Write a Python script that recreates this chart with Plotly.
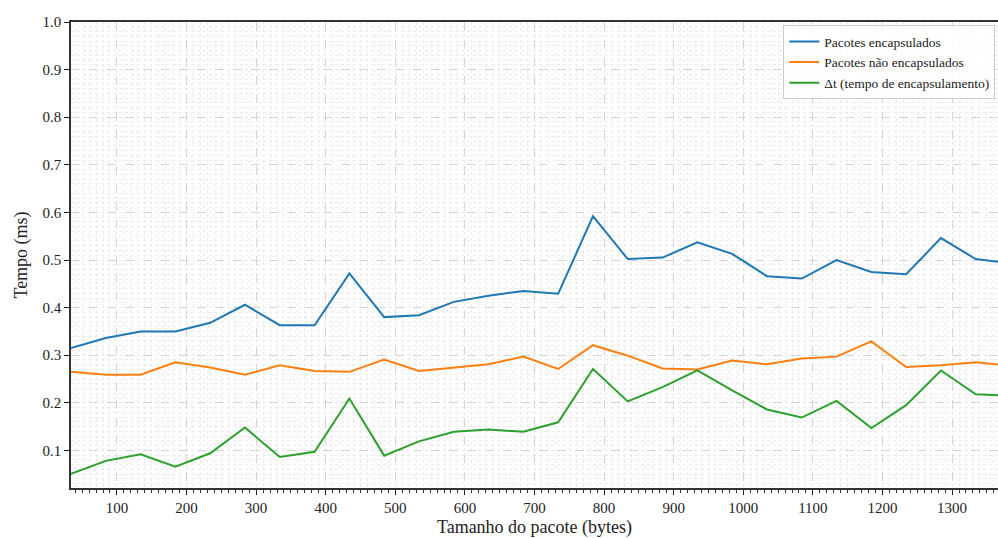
import plotly.graph_objects as go

tamanho = [34, 84, 134, 184, 234, 284, 334, 384, 434, 484, 534, 584, 634, 684, 734,
           784, 834, 884, 934, 984, 1034, 1084, 1134, 1184, 1234, 1284, 1334, 1384]
encapsulados = [0.315, 0.336, 0.350, 0.350, 0.368, 0.406, 0.363, 0.363, 0.472, 0.380,
                0.384, 0.412, 0.425, 0.435, 0.429, 0.592, 0.502, 0.505, 0.537, 0.513,
                0.466, 0.461, 0.500, 0.475, 0.470, 0.546, 0.502, 0.493]
nao_encapsulados = [0.265, 0.259, 0.259, 0.285, 0.274, 0.259, 0.279, 0.267, 0.265, 0.291,
                    0.267, 0.274, 0.281, 0.297, 0.271, 0.321, 0.299, 0.272, 0.270, 0.289,
                    0.281, 0.293, 0.297, 0.329, 0.275, 0.279, 0.285, 0.278]
delta_t = [0.051, 0.078, 0.092, 0.066, 0.094, 0.148, 0.086, 0.097, 0.209, 0.089,
           0.119, 0.139, 0.144, 0.139, 0.159, 0.271, 0.203, 0.233, 0.268, 0.226,
           0.186, 0.169, 0.204, 0.147, 0.195, 0.268, 0.218, 0.215]

nomes = ["Pacotes encapsulados", "Pacotes não encapsulados", "Δt (tempo de encapsulamento)"]
cores = ["#1f77b4", "#ff7f0e", "#2ca02c"]
x_ticks = list(range(100, 1301, 100))
y_ticks = [round(0.1 * i, 1) for i in range(1, 11)]

FONT = "Liberation Serif"

fig = go.Figure()
for nome, serie, cor in zip(nomes, [encapsulados, nao_encapsulados, delta_t], cores):
    fig.add_trace(go.Scatter(x=tamanho, y=serie, mode="lines", name=nome,
                             line=dict(color=cor, width=2)))

fig.update_layout(
    width=998, height=538,
    margin=dict(l=71, r=0, t=22, b=50),
    paper_bgcolor="white", plot_bgcolor="white",
    font=dict(family=FONT, size=15, color="#222"),
    showlegend=True,
    legend=dict(x=0.997, y=0.993, xanchor="right", yanchor="top",
                bgcolor="rgba(255,255,255,0.85)", bordercolor="#cccccc", borderwidth=1,
                font=dict(family=FONT, size=13.5, color="#222"),
                tracegroupgap=0, itemwidth=30),
)

fig.update_xaxes(
    range=[34, 1366], tickvals=x_ticks, ticktext=[str(v) for v in x_ticks],
    ticks="outside", ticklen=5, tickwidth=1, tickcolor="#222",
    showline=True, linecolor="#333", linewidth=1.5, mirror=True,
    showgrid=True, gridcolor="#d4d4d4", griddash="dash", gridwidth=1,
    zeroline=False,
    tickfont=dict(family=FONT, size=15),
    title=dict(text="Tamanho do pacote (bytes)", font=dict(family=FONT, size=18), standoff=8),
    minor=dict(dtick=10, tick0=0, ticks="outside", ticklen=3, tickcolor="#333",
               showgrid=True, gridcolor="#ececec", griddash="dot", gridwidth=1),
)
fig.update_yaxes(
    range=[0.021, 1.0], tickvals=y_ticks, ticktext=[f"{v:.1f}" for v in y_ticks],
    ticks="outside", ticklen=5, tickwidth=1, tickcolor="#222",
    showline=True, linecolor="#333", linewidth=1.5, mirror=False,
    showgrid=True, gridcolor="#d4d4d4", griddash="dash", gridwidth=1,
    zeroline=False,
    tickfont=dict(family=FONT, size=15),
    title=dict(text="Tempo (ms)", font=dict(family=FONT, size=18), standoff=10),
    minor=dict(dtick=0.01, tick0=0, ticks="",
               showgrid=True, gridcolor="#ececec", griddash="dot", gridwidth=1),
)

fig.write_html("out.html", config={"displayModeBar": False},
               post_script="document.body.style.margin='0';document.body.style.overflow='hidden';")
